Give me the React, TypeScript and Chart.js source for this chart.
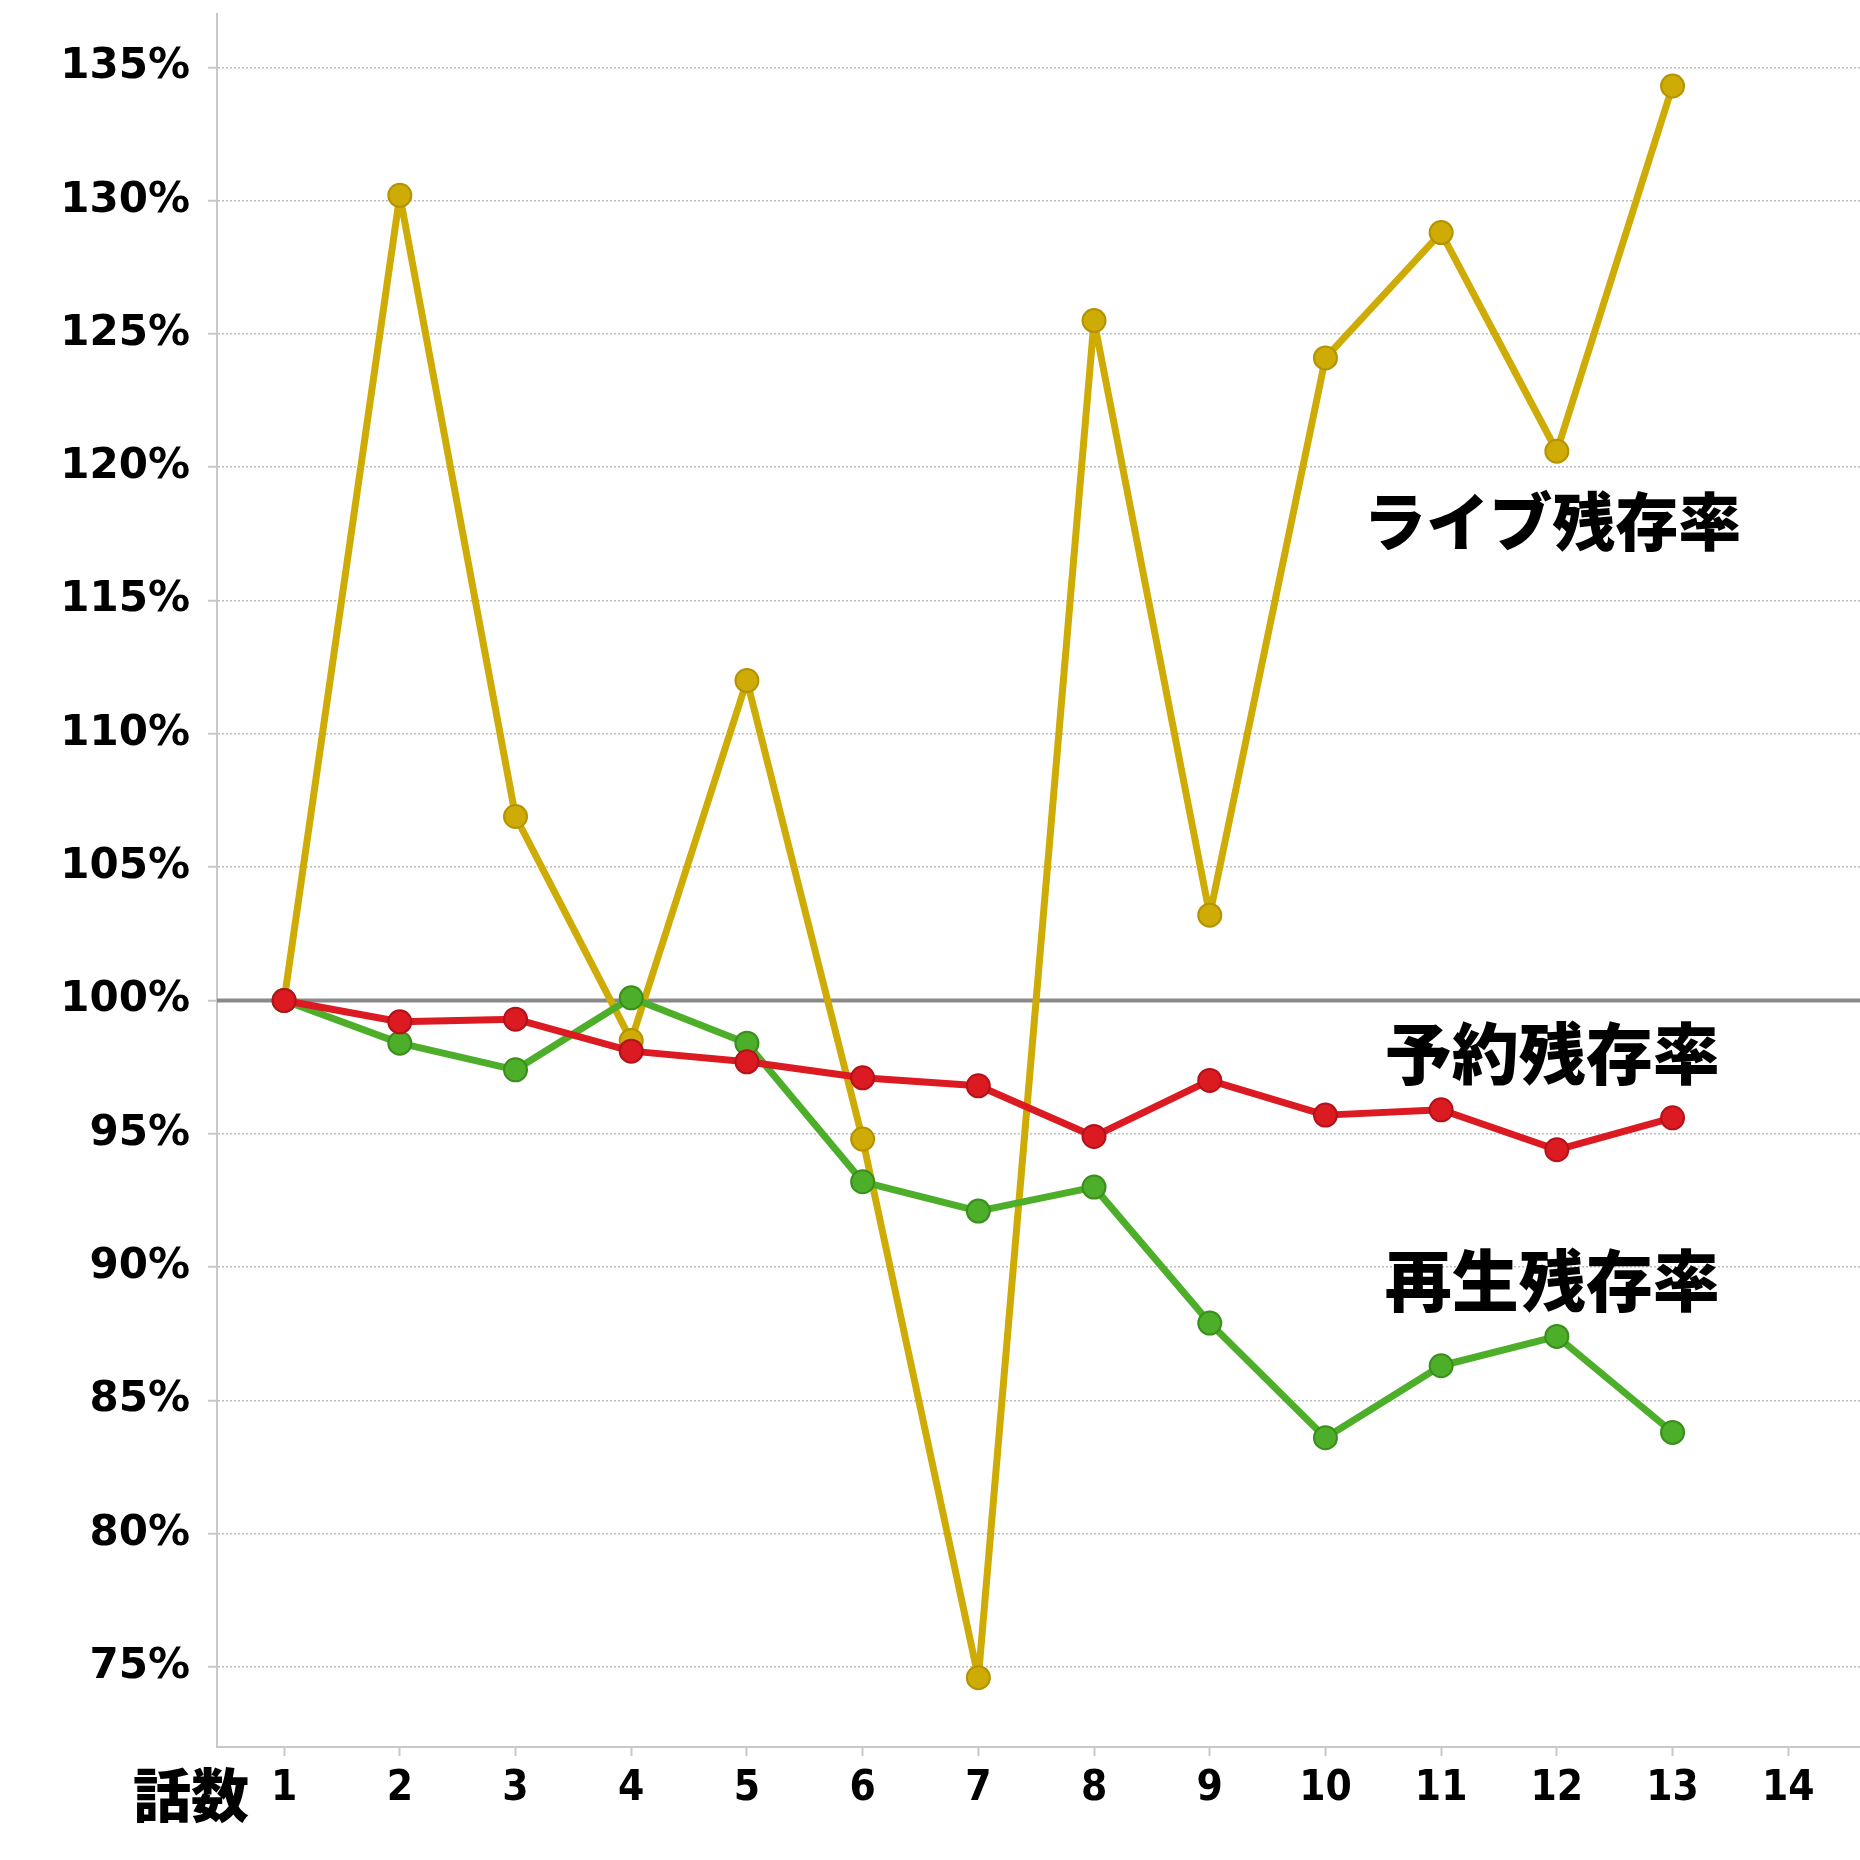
import React, { useEffect, useRef } from "react";
import { Chart, registerables } from "chart.js";

Chart.register(...registerables);

// ---- data ----
const episodes = [1, 2, 3, 4, 5, 6, 7, 8, 9, 10, 11, 12, 13];
const liveRate = [100, 130.2, 106.9, 98.5, 112.0, 94.8, 74.6, 125.5, 103.2, 124.1, 128.8, 120.6, 134.3];
const reserveRate = [100, 99.2, 99.3, 98.1, 97.7, 97.1, 96.8, 94.9, 97.0, 95.7, 95.9, 94.4, 95.6];
const playRate = [100, 98.4, 97.4, 100.1, 98.4, 93.2, 92.1, 93.0, 87.9, 83.6, 86.3, 87.4, 83.8];

const xTickValues = [1, 2, 3, 4, 5, 6, 7, 8, 9, 10, 11, 12, 13, 14];
const yTickValues = [75, 80, 85, 90, 95, 100, 105, 110, 115, 120, 125, 130, 135];

const seriesNames = ["ライブ残存率", "予約残存率", "再生残存率"];
const xAxisTitle = "話数";
const baselineValue = 100;

// label anchors (data coordinates) and font sizes
const labelX = [11.96, 11.96, 11.96];
const labelY = [118.0, 98.0, 89.5];
const labelSize = [63, 67, 67];

const X_MIN = 0.42;
const X_MAX = 14.62;
const Y_MIN = 72;
const Y_MAX = 137;

const COLORS = {
  live: "#CFAB06",
  liveBorder: "#B39300",
  reserve: "#DB1A22",
  reserveBorder: "#B3121A",
  play: "#4DAE2A",
  playBorder: "#3A8E1C",
};

const overlayPlugin = {
  id: "overlay",
  beforeDatasetsDraw(chart: any) {
    const { ctx, chartArea, scales } = chart;
    const y = scales.y.getPixelForValue(baselineValue);
    ctx.save();
    ctx.strokeStyle = "#8a8a8a";
    ctx.lineWidth = 4;
    ctx.beginPath();
    ctx.moveTo(chartArea.left, y);
    ctx.lineTo(chartArea.right, y);
    ctx.stroke();
    ctx.restore();
  },
  afterDraw(chart: any) {
    const { ctx, chartArea, scales } = chart;
    ctx.save();
    ctx.fillStyle = "#000";
    ctx.textAlign = "center";
    ctx.textBaseline = "middle";
    seriesNames.forEach((name, i) => {
      ctx.font = `900 ${labelSize[i]}px 'Noto Sans CJK JP', sans-serif`;
      ctx.fillText(name, scales.x.getPixelForValue(labelX[i]), scales.y.getPixelForValue(labelY[i]));
    });
    ctx.font = "900 58px 'Noto Sans CJK JP', sans-serif";
    ctx.fillText(xAxisTitle, chartArea.left - 26, scales.x.top + 48);
    ctx.restore();
  },
};

function ds(label: string, vals: number[], color: string, border: string, order: number) {
  return {
    label,
    data: episodes.map((e, i) => ({ x: e, y: vals[i] })),
    borderColor: color,
    backgroundColor: color,
    pointBackgroundColor: color,
    pointBorderColor: border,
    borderWidth: 7,
    borderJoinStyle: "round",
    borderCapStyle: "round",
    pointRadius: 11.5,
    pointBorderWidth: 2,
    tension: 0,
    order,
  };
}

export default function App() {
  const ref = useRef<HTMLCanvasElement | null>(null);
  useEffect(() => {
    if (!ref.current) return;
    const chart = new Chart(ref.current, {
      type: "line",
      data: {
        datasets: [
          ds(seriesNames[1], reserveRate, COLORS.reserve, COLORS.reserveBorder, 1),
          ds(seriesNames[2], playRate, COLORS.play, COLORS.playBorder, 2),
          ds(seriesNames[0], liveRate, COLORS.live, COLORS.liveBorder, 3),
        ],
      },
      options: {
        responsive: false,
        animation: false,
        layout: { autoPadding: false, padding: { top: 14, right: 0, left: 0, bottom: 0 } },
        plugins: { legend: { display: false }, tooltip: { enabled: false } },
        scales: {
          x: {
            type: "linear",
            min: X_MIN,
            max: X_MAX,
            afterBuildTicks: (s: any) => {
              s.ticks = xTickValues.map((v) => ({ value: v }));
            },
            afterFit: (s: any) => {
              s.height = 113;
              s.paddingLeft = 0;
              s.paddingRight = 0;
              s.paddingTop = 0;
              s.paddingBottom = 0;
            },
            ticks: {
              autoSkip: false,
              maxRotation: 0,
              padding: 8,
              color: "#000",
              font: { family: "'DejaVu Sans Condensed', 'DejaVu Sans', sans-serif", weight: "bold", size: 42 },
            },
            grid: {
              drawOnChartArea: false,
              drawTicks: true,
              tickLength: 9,
              tickColor: "#c8c8c8",
              tickWidth: 2,
            },
            border: { color: "#c8c8c8", width: 2 },
          },
          y: {
            type: "linear",
            min: Y_MIN,
            max: Y_MAX,
            afterBuildTicks: (s: any) => {
              s.ticks = yTickValues.map((v) => ({ value: v }));
            },
            afterFit: (s: any) => {
              s.width = 217;
              s.paddingLeft = 0;
              s.paddingRight = 0;
              s.paddingTop = 0;
              s.paddingBottom = 0;
            },
            ticks: {
              autoSkip: false,
              padding: 18,
              color: "#000",
              callback: (v: any) => `${v}%`,
              font: { family: "'DejaVu Sans', sans-serif", weight: "bold", size: 42 },
            },
            grid: {
              color: "#bdbdbd",
              lineWidth: 1.5,
              tickLength: 9,
              tickColor: "#c8c8c8",
              tickWidth: 2,
              tickBorderDash: [],
            },
            border: { color: "#c8c8c8", width: 2, dash: [2, 2] },
          },
        },
      },
      plugins: [overlayPlugin],
    } as any);
    return () => chart.destroy();
  }, []);
  return (
    <div style={{ position: "absolute", left: 0, top: 0, width: 1860, height: 1860, background: "#fff" }}>
      <canvas ref={ref} width={1860} height={1860} style={{ width: 1860, height: 1860 }} />
    </div>
  );
}
